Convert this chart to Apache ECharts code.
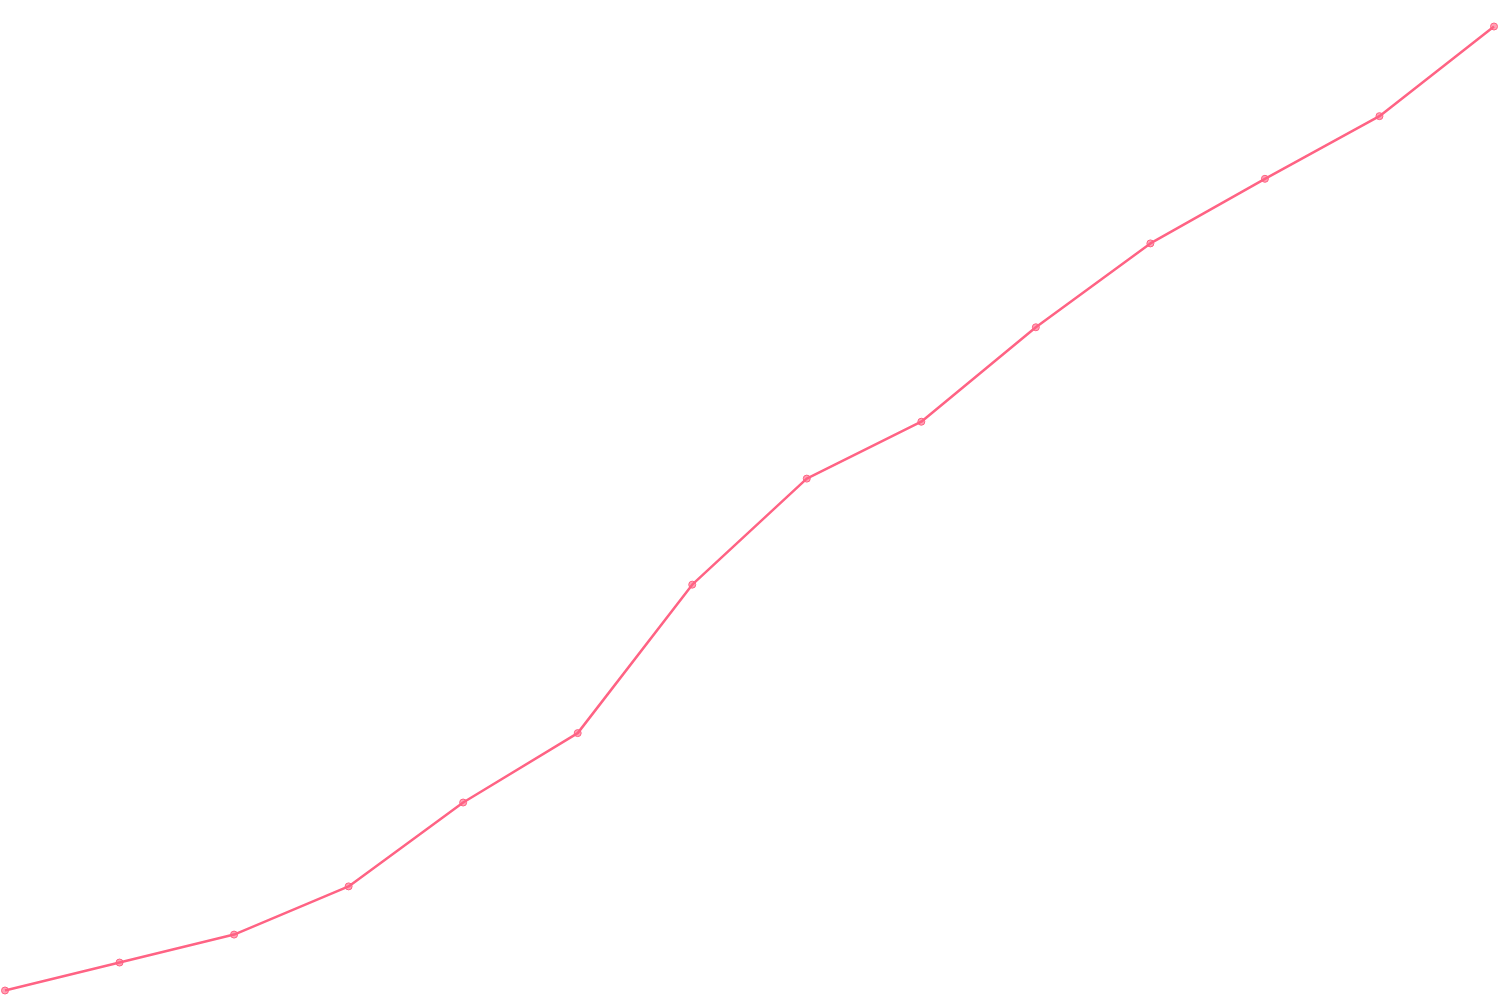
<!DOCTYPE html>
<html><head><meta charset="utf-8">
<script src="https://cdn.jsdelivr.net/npm/echarts@6/dist/echarts.min.js"></script>
<style>html,body{margin:0;padding:0;background:#fff}#c{width:1500px;height:1000px}</style>
</head><body><div id="c"></div>
<script>
const categories = ['1','2','3','4','5','6','7','8','9','10','11','12','13','14'];
const values = [0, 2.9, 5.8, 10.8, 19.5, 26.7, 42.1, 53.1, 59.0, 68.8, 77.5, 84.2, 90.7, 100];
const chart = echarts.init(document.getElementById('c'));
chart.setOption({
  animation: false,
  grid: { left: 5, right: 6, top: 26.5, bottom: 9.5 },
  xAxis: { type: 'category', data: categories, boundaryGap: false, show: false },
  yAxis: { type: 'value', min: 0, max: 100, show: false },
  series: [{
    type: 'line',
    data: values,
    symbol: 'circle',
    symbolSize: 7,
    lineStyle: { color: '#ff6384', width: 2.5 },
    itemStyle: { color: 'rgba(255,99,132,0.6)', borderColor: '#ff6384', borderWidth: 1 }
  }]
});
</script></body></html>
